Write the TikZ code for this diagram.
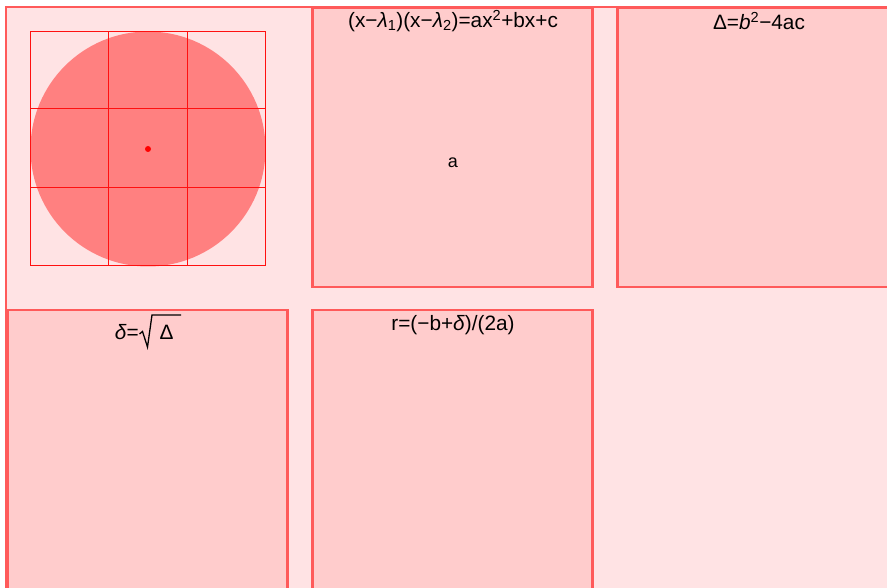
\documentclass[tikz,border=0pt]{standalone}
\usepackage{fontspec}
\setmainfont{Liberation Sans}
\definecolor{outerfill}{HTML}{FFE3E4}
\definecolor{boxfill}{HTML}{FFCCCC}
\definecolor{boxline}{HTML}{FF5A5A}
\definecolor{circfill}{HTML}{FF8080}
\definecolor{gridred}{HTML}{FF1010}
\tikzset{
  panel/.style={draw=boxline, line width=2.5pt, fill=boxfill, rectangle, minimum width=280pt, minimum height=279pt, inner sep=0pt, anchor=north west},
  title/.style={font=\fontsize{20.8}{22}\selectfont, anchor=center, inner sep=0pt},
  basetext/.style={font=\fontsize{20.8}{22}\selectfont, inner sep=0pt},
  gridline/.style={gridred, line width=1pt},
  radical/.style={black, line width=1.3pt, line join=miter},
}
\begin{document}
\begin{tikzpicture}[x=1pt, y=-1pt]
\useasboundingbox (0,0) rectangle (887,588);
% outer container
\fill[outerfill] (6,7) rectangle (900,600);
\draw[boxline, line width=2.5pt] (6,600) -- (6,7) -- (900,7);
% panels
\node[panel] (p1) at (311,7) {};
\node[panel] (p2) at (616,7) {};
\node[panel] (p3) at (6,309) {};
\node[panel] (p4) at (311,309) {};
% titles
\node[title] (t1) at (453,21) {(x−\textit{λ}\textsubscript{1})(x−\textit{λ}\textsubscript{2})=ax\textsuperscript{2}+bx+c};
\node[title] (t2) at (759,21) {Δ=\textit{b}\textsuperscript{2}−4ac};
\node[basetext, anchor=base east] (t3) at (139,340) {\textit{δ}=};
\node[basetext, anchor=base west] (t3b) at (159.5,340) {Δ};
\draw[radical] (139.5,334) -- (142.5,331.5) -- (147.5,347) -- (152,315) -- (181,315);
\node[title] (t4) at (453,325) {r=(−b+\textit{δ})/(2a)};
\node[font=\fontsize{18}{20}\selectfont, inner sep=0pt] (a) at (453,163) {a};
% circle and grid
\fill[circfill] (148,149) circle (117.5);
\draw[gridline] (30,32) rectangle (265,266);
\foreach \xx in {108,187} \draw[gridline] (\xx,32) -- (\xx,266);
\foreach \yy in {109,188} \draw[gridline] (30,\yy) -- (265,\yy);
\fill[red] (148,149) circle (3);
\end{tikzpicture}
\end{document}
